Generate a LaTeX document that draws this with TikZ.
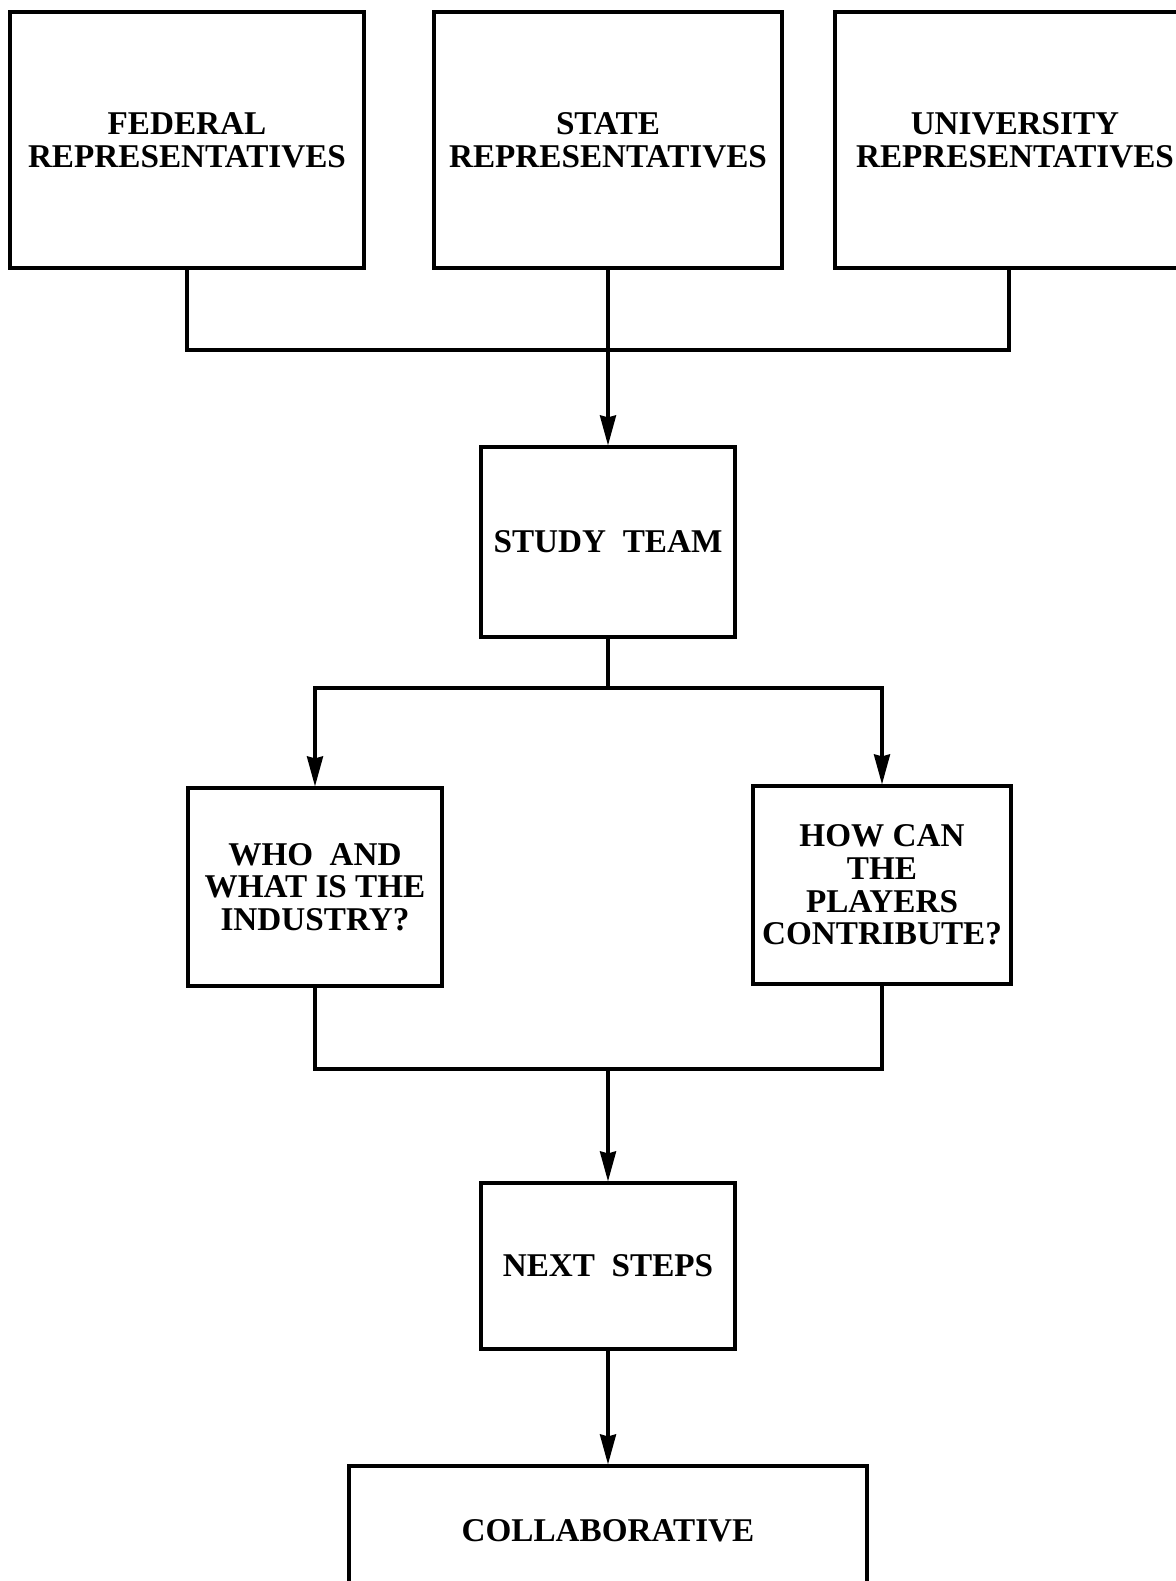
\documentclass[tikz,border=0pt]{standalone}
\usepackage{fontspec}
\setmainfont{Liberation Serif}
\usetikzlibrary{arrows.meta}
\tikzset{>={Stealth[length=15pt,width=8pt,inset=1pt]}}
\tikzset{box/.style={draw, line width=1.6pt, align=center, inner sep=2pt,
    font=\fontsize{16.6}{16.3}\selectfont\bfseries}}

\begin{document}
\begin{tikzpicture}[x=0.5pt, y=-0.5pt, line width=1.6pt]
        \useasboundingbox (0,0) rectangle (1176,1581);
        \clip (0,0) rectangle (1176,1581);
        \fill[white] (0,0) rectangle (1176,1581);

        \node[box, minimum width=177pt, minimum height=128pt] (fed) at (187,140) {FEDERAL\\REPRESENTATIVES};
        \node[box, minimum width=174pt, minimum height=128pt] (state) at (608,140) {STATE\\REPRESENTATIVES};
        \node[box, minimum width=180pt, minimum height=128pt] (univ) at (1015,140) {UNIVERSITY\\REPRESENTATIVES};

        \node[box, minimum width=127pt, minimum height=95pt] (study) at (608,542) {STUDY\ \ TEAM};

        \node[box, minimum width=127pt, minimum height=99pt] (who) at (315,887) {WHO\ \ AND\\WHAT IS THE\\INDUSTRY?};
        \node[box, minimum width=129pt, minimum height=99pt] (how) at (882,885) {HOW CAN\\THE\\PLAYERS\\CONTRIBUTE?};

        \node[box, minimum width=127pt, minimum height=83pt] (next) at (608,1266) {NEXT\ \ STEPS};
        \node[box, minimum width=259pt, minimum height=65pt] (collab) at (608,1531) {COLLABORATIVE};

        \coordinate (meet) at (608,350);
        \coordinate (split) at (608,688);
        \coordinate (join) at (608,1069);

        \draw (fed.south) |- (meet) -| ([xshift=-3pt]univ.south);
        \draw[->] (state.south) -- (study.north);

        \draw (study.south) -- (split);
        \draw[->] (split) -| (who.north);
        \draw[->] (split) -| (how.north);

        \draw (who.south) |- (join) -| (how.south);
        \draw[->] (join) -- (next.north);
        \draw[->] (next.south) -- (collab.north);
\end{tikzpicture}
\end{document}
